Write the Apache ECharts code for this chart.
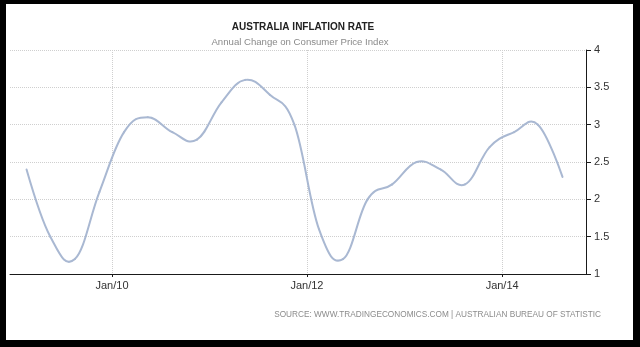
<!DOCTYPE html>
<html>
<head>
<meta charset="utf-8">
<script src="https://cdn.jsdelivr.net/npm/echarts@6/dist/echarts.min.js"></script>
<style>
  html, body { margin: 0; padding: 0; width: 640px; height: 347px; overflow: hidden; background: #000; }
  #frame { position: absolute; left: 6px; top: 4px; width: 627px; height: 336px; background: #fff; }
  #chart { width: 627px; height: 336px; }
</style>
</head>
<body>
<div id="frame"><div id="chart"></div></div>
<script>
// Quarterly CPI releases, plotted at the middle of each quarter
const quarters = [
  '2009-02-15', '2009-05-15', '2009-08-15', '2009-11-15',
  '2010-02-15', '2010-05-15', '2010-08-15', '2010-11-15',
  '2011-02-15', '2011-05-15', '2011-08-15', '2011-11-15',
  '2012-02-15', '2012-05-15', '2012-08-15', '2012-11-15',
  '2013-02-15', '2013-05-15', '2013-08-15', '2013-11-15',
  '2014-02-15', '2014-05-15', '2014-08-15'
];
// Annual change in the consumer price index, percent
const inflation = [
  2.4, 1.5, 1.2, 2.1,
  2.9, 3.1, 2.9, 2.8,
  3.3, 3.6, 3.4, 3.0,
  1.6, 1.2, 2.0, 2.2,
  2.5, 2.4, 2.2, 2.7,
  2.9, 3.0, 2.3
];
// Labelled x ticks (January of every other year)
const xTickYears = [2010, 2012, 2014];
// y axis range and step
const yMin = 1, yMax = 4, yStep = 0.5;

const toTime = s => { const [y, m, d] = s.split('-').map(Number); return new Date(y, m - 1, d).getTime(); };
const times = quarters.map(toTime);
const xTicks = xTickYears.map(y => new Date(y, 0, 1).getTime());
const axisColor = '#1a1a1a';
const gridColor = '#cfcfcf';
const lineColor = '#a9b8d2';
const font = '"Liberation Sans", Arial, sans-serif';

// Spline through the data: each point gets control handles at 0.4 of the
// distance to its neighbours, aligned on the line joining them.
const SMOOTHING = 1.5;
function handles(api, k) {
  if (k <= 0 || k >= times.length - 1) return null;
  const [x, y] = api.coord([times[k], inflation[k]]);
  const [lx, ly] = api.coord([times[k - 1], inflation[k - 1]]);
  const [nx, ny] = api.coord([times[k + 1], inflation[k + 1]]);
  const d = SMOOTHING + 1;
  const lcx = (SMOOTHING * x + lx) / d;
  let lcy = (SMOOTHING * y + ly) / d;
  const rcx = (SMOOTHING * x + nx) / d;
  let rcy = (SMOOTHING * y + ny) / d;
  const corr = ((rcy - lcy) * (rcx - x)) / (rcx - lcx) + y - rcy;
  lcy += corr;
  rcy += corr;
  return { lcx, lcy, rcx, rcy };
}

function renderSegment(params, api) {
  const i = params.dataIndex;
  if (i === 0) return null;
  const a = api.coord([times[i - 1], inflation[i - 1]]);
  const b = api.coord([times[i], inflation[i]]);
  const ha = handles(api, i - 1);
  const hb = handles(api, i);
  return {
    type: 'bezierCurve',
    shape: {
      x1: a[0], y1: a[1], x2: b[0], y2: b[1],
      cpx1: ha ? ha.rcx : a[0], cpy1: ha ? ha.rcy : a[1],
      cpx2: hb ? hb.lcx : b[0], cpy2: hb ? hb.lcy : b[1]
    },
    style: { stroke: lineColor, lineWidth: 2, fill: null, lineCap: 'round' },
    silent: true
  };
}

const chart = echarts.init(document.getElementById('chart'), null, { renderer: 'canvas' });
chart.setOption({
  animation: false,
  backgroundColor: '#fff',
  grid: { left: 4, top: 46, right: 47, bottom: 66, containLabel: false },
  graphic: [
    {
      type: 'text', x: 297, y: 23,
      style: { text: 'AUSTRALIA INFLATION RATE', align: 'center', verticalAlign: 'middle',
               fill: '#222', font: 'bold 10px ' + font }
    },
    {
      type: 'text', x: 294, y: 38,
      style: { text: 'Annual Change on Consumer Price Index', align: 'center', verticalAlign: 'middle',
               fill: '#8a8a8a', font: '9.6px ' + font }
    },
    {
      type: 'text', x: 595, y: 311,
      style: { text: 'SOURCE: WWW.TRADINGECONOMICS.COM | AUSTRALIAN BUREAU OF STATISTIC',
               align: 'right', verticalAlign: 'middle', fill: '#8c8c8c', font: '8.25px ' + font }
    }
  ],
  xAxis: {
    type: 'value',
    min: new Date(2008, 11, 15).getTime(),
    max: new Date(2014, 10, 11).getTime(),
    axisLine: { show: true, onZero: false, lineStyle: { color: axisColor, width: 1 } },
    axisTick: { show: true, customValues: xTicks, length: 3, lineStyle: { color: axisColor } },
    axisLabel: {
      customValues: xTicks,
      formatter: v => 'Jan/' + String(new Date(v).getFullYear()).slice(2),
      color: '#333', fontSize: 11, fontFamily: font, margin: 6
    },
    splitLine: { show: true, lineStyle: { type: 'dotted', color: gridColor, width: 1 } }
  },
  yAxis: {
    type: 'value',
    position: 'right',
    min: yMin, max: yMax, interval: yStep,
    axisLine: { show: true, lineStyle: { color: axisColor, width: 1 } },
    axisTick: { show: true, inside: false, length: 5, lineStyle: { color: axisColor } },
    axisLabel: { color: '#333', fontSize: 11, fontFamily: font, margin: 8 },
    splitLine: { show: true, lineStyle: { type: 'dotted', color: gridColor, width: 1 } }
  },
  series: [{
    type: 'custom',
    data: times.map((t, i) => [t, inflation[i]]),
    encode: { x: 0, y: 1 },
    renderItem: renderSegment,
    silent: true
  }]
});
</script>
</body>
</html>
